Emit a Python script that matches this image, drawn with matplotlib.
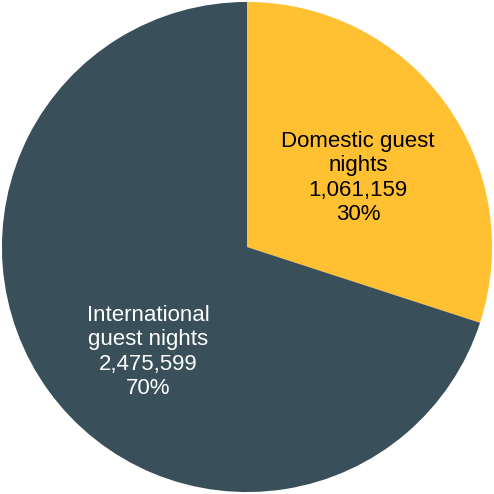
import matplotlib
matplotlib.use("Agg")
import matplotlib.pyplot as plt

categories = ["Domestic guest\nnights", "International\nguest nights"]
values = [1061159, 2475599]
colors = ["#FFC132", "#394F59"]
text_colors = ["#000000", "#FFFFFF"]
# label anchor points in axes-data units (pie radius = 1)
label_pos = [(0.453, 0.282), (-0.404, -0.429)]

fig = plt.figure(figsize=(4.94, 4.94), dpi=100)
ax = fig.add_axes([0, 0, 1, 1])
wedges, _ = ax.pie(values, colors=colors, startangle=90, counterclock=False,
                   radius=1.0, wedgeprops=dict(linewidth=0))
total = sum(values)
for cat, v, tc, (x, y) in zip(categories, values, text_colors, label_pos):
    ax.text(x, y, f"{cat}\n{v:,}\n{v / total:.0%}", ha="center", va="center",
            color=tc, fontsize=16, family=["Liberation Sans", "DejaVu Sans"],
            linespacing=1.22)
ax.set_xlim(-1.008, 1.008)
ax.set_ylim(-1.008, 1.008)
ax.set_aspect("equal")
ax.axis("off")
fig.savefig("out.png", dpi=100, facecolor="white")
